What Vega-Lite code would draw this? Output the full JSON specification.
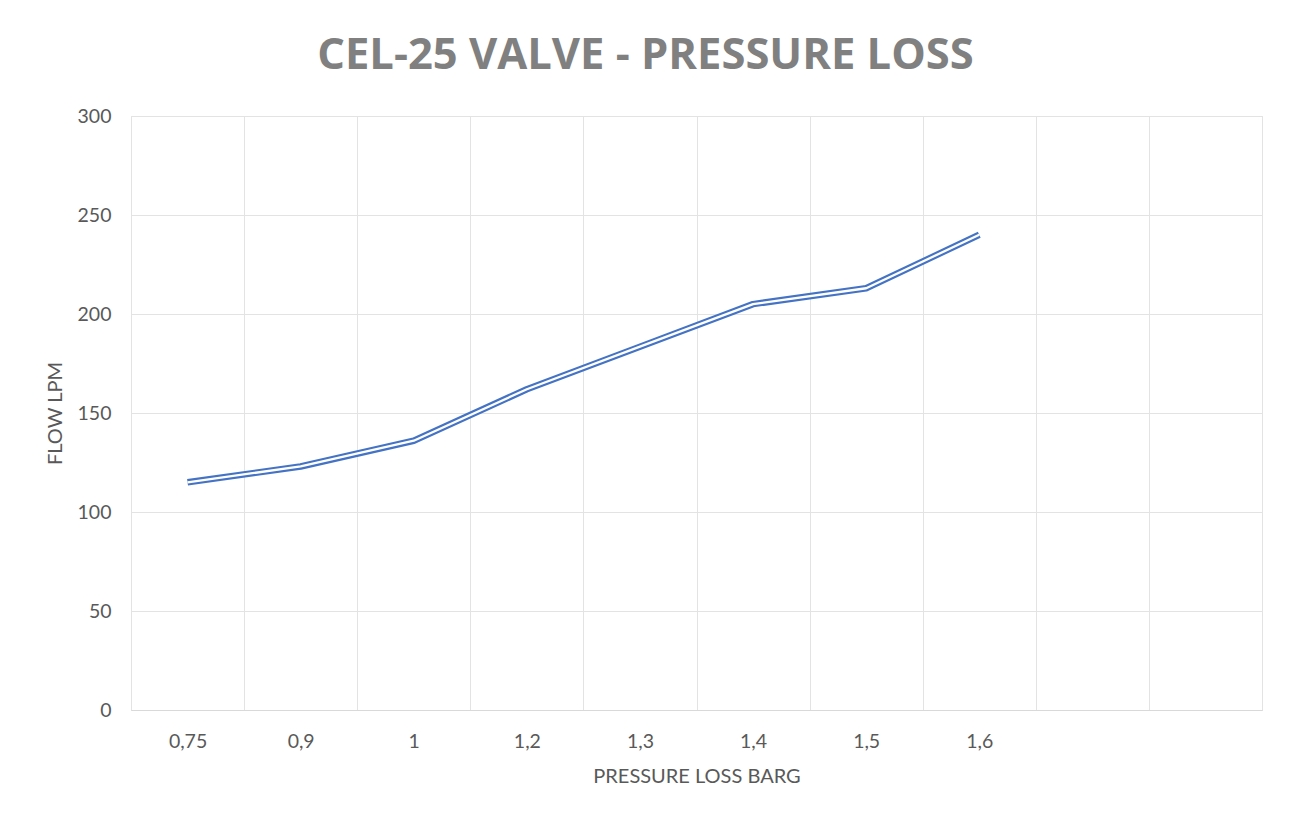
{
  "$schema": "https://vega.github.io/schema/vega-lite/v6.json",
  "autosize": {"type": "none"},
  "padding": {"left": 131, "top": 116, "right": 27, "bottom": 108},
  "width": 1131,
  "height": 594,
  "background": "white",
  "config": {
    "font": "Lato",
    "view": {"stroke": "#e3e3e3", "strokeWidth": 1}
  },
  "title": {
    "text": "CEL-25 VALVE - PRESSURE LOSS",
    "font": "Open Sans",
    "fontSize": 43.5,
    "fontWeight": "bold",
    "color": "#808080",
    "anchor": "middle",
    "dx": -51,
    "offset": 28
  },
  "data": {
    "values": [
      {"pressure": "0,75", "flow": 115},
      {"pressure": "0,9", "flow": 123},
      {"pressure": "1", "flow": 136},
      {"pressure": "1,2", "flow": 162},
      {"pressure": "1,3", "flow": 183.5},
      {"pressure": "1,4", "flow": 205},
      {"pressure": "1,5", "flow": 213},
      {"pressure": "1,6", "flow": 240}
    ]
  },
  "encoding": {
    "x": {
      "field": "pressure",
      "type": "ordinal",
      "sort": null,
      "scale": {
        "domain": ["0,75", "0,9", "1", "1,2", "1,3", "1,4", "1,5", "1,6", " ", "  "],
        "paddingInner": 0,
        "paddingOuter": 0
      },
      "axis": {
        "title": "PRESSURE LOSS BARG",
        "titleFont": "Lato",
        "titleFontSize": 20,
        "titleFontWeight": "normal",
        "titleColor": "#595959",
        "titlePadding": 16,
        "labelFont": "Lato",
        "labelFontSize": 19.5,
        "labelColor": "#595959",
        "labelAngle": 0,
        "labelPadding": 22,
        "tickBand": "extent",
        "ticks": false,
        "grid": true,
        "gridColor": "#e3e3e3",
        "domainColor": "#d9d9d9"
      }
    },
    "y": {
      "field": "flow",
      "type": "quantitative",
      "scale": {"domain": [0, 300], "nice": false},
      "axis": {
        "title": "FLOW LPM",
        "titleFont": "Lato",
        "titleFontSize": 20,
        "titleFontWeight": "normal",
        "titleColor": "#595959",
        "titlePadding": 12,
        "labelFont": "Lato",
        "labelFontSize": 19.5,
        "labelColor": "#595959",
        "labelPadding": 20,
        "values": [0, 50, 100, 150, 200, 250, 300],
        "ticks": false,
        "domain": false,
        "gridColor": "#e3e3e3"
      }
    }
  },
  "layer": [
    {"mark": {"type": "line", "color": "#4472C4", "strokeWidth": 6.5, "strokeJoin": "round"}},
    {"mark": {"type": "line", "color": "white", "strokeWidth": 2.3, "strokeJoin": "round"}}
  ]
}
